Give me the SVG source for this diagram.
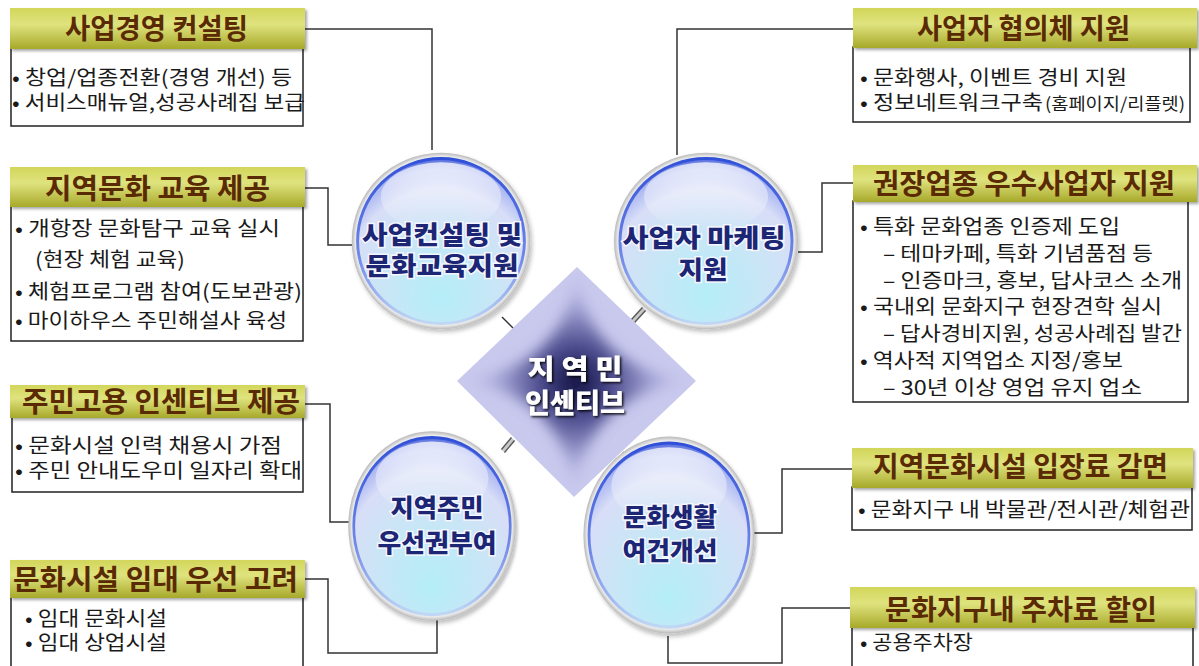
<svg xmlns="http://www.w3.org/2000/svg" width="1199" height="666" viewBox="0 0 1199 666">
<defs>
<linearGradient id="hdrG" x1="0" y1="0" x2="0" y2="1">
<stop offset="0" stop-color="#d2d65a"/>
<stop offset="0.4" stop-color="#dfe37e"/>
<stop offset="1" stop-color="#a7a92a"/>
</linearGradient>
<radialGradient id="ringG" cx="0.5" cy="0.5" r="0.5">
<stop offset="0.9" stop-color="#ffffff"/>
<stop offset="0.96" stop-color="#e8e8e8"/>
<stop offset="1" stop-color="#b8b8b8"/>
</radialGradient>
<radialGradient id="ballG" cx="0.5" cy="0.72" r="0.72" fx="0.5" fy="0.85">
<stop offset="0" stop-color="#b4eef8"/>
<stop offset="0.45" stop-color="#c8e6f6"/>
<stop offset="0.78" stop-color="#d8def7"/>
<stop offset="0.92" stop-color="#aab6f2"/>
<stop offset="1" stop-color="#5068de"/>
</radialGradient>
<linearGradient id="rimG" x1="0" y1="0" x2="0" y2="1">
<stop offset="0" stop-color="#3050d8"/>
<stop offset="0.6" stop-color="#7088e8"/>
<stop offset="1" stop-color="#c0d8f4"/>
</linearGradient>
<linearGradient id="hiG" x1="0" y1="0" x2="0" y2="1">
<stop offset="0" stop-color="#ffffff" stop-opacity="0.75"/>
<stop offset="1" stop-color="#ffffff" stop-opacity="0"/>
</linearGradient>
<radialGradient id="starG" gradientUnits="userSpaceOnUse" cx="576" cy="382" r="110">
<stop offset="0" stop-color="#0e0e3c"/>
<stop offset="0.3" stop-color="#454588"/>
<stop offset="0.7" stop-color="#a6a6d8"/>
<stop offset="1" stop-color="#c9c9ee"/>
</radialGradient>
<clipPath id="dclip"><polygon points="457,381 577,267 696,381 574,497"/></clipPath>
<filter id="blur" x="-20%" y="-20%" width="140%" height="140%"><feGaussianBlur stdDeviation="7"/></filter>
<filter id="sh" x="-10%" y="-10%" width="130%" height="130%"><feDropShadow dx="2" dy="3" stdDeviation="2" flood-color="#000" flood-opacity="0.25"/></filter>
<filter id="hsh" x="-5%" y="-10%" width="110%" height="130%"><feDropShadow dx="2" dy="2" stdDeviation="1.5" flood-color="#000" flood-opacity="0.35"/></filter>
<filter id="dsh" x="-10%" y="-20%" width="130%" height="150%"><feDropShadow dx="1.5" dy="1.5" stdDeviation="0.8" flood-color="#000" flood-opacity="0.9"/></filter>
<g id="ball">
<circle r="92" fill="url(#ringG)" filter="url(#sh)"/>
<circle r="86" fill="url(#ballG)"/>
<circle r="86" fill="none" stroke="url(#rimG)" stroke-width="3"/>
<ellipse cx="0" cy="-46" rx="62" ry="36" fill="url(#hiG)"/>
</g>
</defs>
<style>
.hdr{fill:url(#hdrG);filter:url(#hsh);}
.box{fill:#fff;stroke:#222;stroke-width:1.5;}
.ht{font-family:"Noto Sans CJK KR","Noto Sans",sans-serif;font-size:28px;font-weight:700;fill:#5a2a05;}
.bt{font-family:"Noto Sans CJK KR","Noto Sans",sans-serif;font-size:20px;fill:#1a1a1a;}
.sm{font-size:17px;}
.conn{fill:none;stroke:#333;stroke-width:1.5;}
.ct{font-family:"Noto Sans CJK KR","Noto Sans",sans-serif;font-size:25px;font-weight:900;fill:#1c2674;stroke:#f4f6ff;stroke-width:3;paint-order:stroke;text-anchor:middle;}
.dt{font-family:"Noto Sans CJK KR","Noto Sans",sans-serif;font-size:27px;font-weight:900;fill:#fff;text-anchor:middle;filter:url(#dsh);}
.hatch{stroke:#c8c8c8;stroke-width:6;}
.hl{stroke:#555;stroke-width:1.2;}
</style>
<rect width="1199" height="666" fill="#fff"/>

<g id="connectors">
<polyline class="conn" points="305,29 432,29 432,150"/>
<polyline class="conn" points="305,188 328,188 328,245 355,245"/>
<polyline class="conn" points="305,404 330,404 330,522 355,522"/>
<polyline class="conn" points="305,579 328,579 328,653 437,653 437,620"/>
<polyline class="conn" points="853,29 677,29 677,155"/>
<polyline class="conn" points="853,183 822,183 822,252 798,252"/>
<polyline class="conn" points="855,469 782,469 782,533 752,533"/>
<polyline class="conn" points="855,608 782,608 782,663 668,663 668,636"/>
<line class="conn" x1="502" y1="317" x2="516" y2="331"/>
<line class="conn" x1="623" y1="452" x2="636" y2="466"/>
<g>
<line class="hatch" x1="644" y1="309" x2="633" y2="321"/>
<line class="hl" x1="645.5" y1="310.5" x2="634.5" y2="322.5"/>
<line class="hl" x1="642.5" y1="307.5" x2="631.5" y2="319.5"/>
</g>
<g>
<line class="hatch" x1="513" y1="439" x2="503" y2="451"/>
<line class="hl" x1="514.5" y1="440.5" x2="504.5" y2="452.5"/>
<line class="hl" x1="511.5" y1="437.5" x2="501.5" y2="449.5"/>
</g>
</g>

<g id="center-diamond">
<polygon points="457,381 577,267 696,381 574,497" fill="#c9c9ee"/>
<g clip-path="url(#dclip)">
<path d="M577,272 Q588,368 692,381 Q588,394 574,493 Q563,394 461,381 Q563,368 577,272 Z" fill="url(#starG)" filter="url(#blur)"/>
</g>
<text class="dt" x="575" y="379" textLength="95" lengthAdjust="spacingAndGlyphs">지 역 민</text>
<text class="dt" x="575" y="413" textLength="100" lengthAdjust="spacingAndGlyphs">인센티브</text>
</g>

<g id="circle-tl">
<use href="#ball" transform="translate(441,241) scale(0.97,0.96)"/>
<text class="ct" x="442" y="244" textLength="160" lengthAdjust="spacingAndGlyphs">사업컨설팅 및</text>
<text class="ct" x="442" y="275" textLength="153" lengthAdjust="spacingAndGlyphs">문화교육지원</text>
</g>
<g id="circle-tr">
<use href="#ball" transform="translate(706,241) scale(1.0,0.96)"/>
<text class="ct" x="704" y="247" textLength="163" lengthAdjust="spacingAndGlyphs">사업자 마케팅</text>
<text class="ct" x="703" y="279" textLength="49" lengthAdjust="spacingAndGlyphs">지원</text>
</g>
<g id="circle-bl">
<use href="#ball" transform="translate(432,526) scale(0.91,1.03)"/>
<text class="ct" x="437" y="517" textLength="93" lengthAdjust="spacingAndGlyphs">지역주민</text>
<text class="ct" x="437" y="552" textLength="119" lengthAdjust="spacingAndGlyphs">우선권부여</text>
</g>
<g id="circle-br">
<use href="#ball" transform="translate(669,535) scale(0.93,1.07)"/>
<text class="ct" x="670" y="526" textLength="94" lengthAdjust="spacingAndGlyphs">문화생활</text>
<text class="ct" x="670" y="560" textLength="95" lengthAdjust="spacingAndGlyphs">여건개선</text>
</g>

<g id="panel-consulting">
<rect class="box" x="11" y="48" width="292" height="78"/>
<rect class="hdr" x="10" y="8" width="295" height="41"/>
<text class="ht" x="65" y="39" textLength="183" lengthAdjust="spacingAndGlyphs">사업경영 컨설팅</text>
<text class="bt" x="12" y="85" textLength="280" lengthAdjust="spacingAndGlyphs">• 창업/업종전환(경영 개선) 등</text>
<text class="bt" x="12" y="110" textLength="293" lengthAdjust="spacingAndGlyphs">• 서비스매뉴얼,성공사례집 보급</text>
</g>

<g id="panel-education">
<rect class="box" x="11" y="206" width="292" height="135"/>
<rect class="hdr" x="10" y="167" width="295" height="40"/>
<text class="ht" x="45" y="199" textLength="225" lengthAdjust="spacingAndGlyphs">지역문화 교육 제공</text>
<text class="bt" x="15" y="236" textLength="265" lengthAdjust="spacingAndGlyphs">• 개항장 문화탐구 교육 실시</text>
<text class="bt" x="35" y="267" textLength="150" lengthAdjust="spacingAndGlyphs">(현장 체험 교육)</text>
<text class="bt" x="15" y="299" textLength="287" lengthAdjust="spacingAndGlyphs">• 체험프로그램 참여(도보관광)</text>
<text class="bt" x="15" y="328" textLength="272" lengthAdjust="spacingAndGlyphs">• 마이하우스 주민해설사 육성</text>
</g>

<g id="panel-employment">
<rect class="box" x="12" y="416" width="291" height="76"/>
<rect class="hdr" x="10" y="385" width="295" height="33"/>
<text class="ht" x="22" y="412" textLength="278" lengthAdjust="spacingAndGlyphs">주민고용 인센티브 제공</text>
<text class="bt" x="15" y="453" textLength="267" lengthAdjust="spacingAndGlyphs">• 문화시설 인력 채용시 가점</text>
<text class="bt" x="15" y="478" textLength="287" lengthAdjust="spacingAndGlyphs">• 주민 안내도우미 일자리 확대</text>
</g>

<g id="panel-lease">
<rect class="box" x="11" y="597" width="292" height="75"/>
<rect class="hdr" x="10" y="560" width="295" height="38"/>
<text class="ht" x="13" y="590" textLength="285" lengthAdjust="spacingAndGlyphs">문화시설 임대 우선 고려</text>
<text class="bt" x="25" y="626" textLength="142" lengthAdjust="spacingAndGlyphs">• 임대 문화시설</text>
<text class="bt" x="25" y="650" textLength="142" lengthAdjust="spacingAndGlyphs">• 임대 상업시설</text>
</g>

<g id="panel-council">
<rect class="box" x="853" y="47" width="337" height="75"/>
<rect class="hdr" x="853" y="8" width="344" height="40"/>
<text class="ht" x="917" y="39" textLength="213" lengthAdjust="spacingAndGlyphs">사업자 협의체 지원</text>
<text class="bt" x="860" y="85" textLength="267" lengthAdjust="spacingAndGlyphs">• 문화행사, 이벤트 경비 지원</text>
<text class="bt" x="860" y="110"><tspan textLength="183" lengthAdjust="spacingAndGlyphs">• 정보네트워크구축</tspan><tspan class="sm" x="1045" textLength="140" lengthAdjust="spacingAndGlyphs">(홈페이지/리플렛)</tspan></text>
</g>

<g id="panel-recommended">
<rect class="box" x="853" y="201" width="335" height="201"/>
<rect class="hdr" x="853" y="165" width="344" height="37"/>
<text class="ht" x="873" y="194" textLength="302" lengthAdjust="spacingAndGlyphs">권장업종 우수사업자 지원</text>
<text class="bt" x="860" y="234" textLength="260" lengthAdjust="spacingAndGlyphs">• 특화 문화업종 인증제 도입</text>
<text class="bt" x="883" y="261" textLength="270" lengthAdjust="spacingAndGlyphs">– 테마카페, 특화 기념품점 등</text>
<text class="bt" x="883" y="288" textLength="299" lengthAdjust="spacingAndGlyphs">– 인증마크, 홍보, 답사코스 소개</text>
<text class="bt" x="860" y="314" textLength="302" lengthAdjust="spacingAndGlyphs">• 국내외 문화지구 현장견학 실시</text>
<text class="bt" x="883" y="341" textLength="299" lengthAdjust="spacingAndGlyphs">– 답사경비지원, 성공사례집 발간</text>
<text class="bt" x="860" y="368" textLength="263" lengthAdjust="spacingAndGlyphs">• 역사적 지역업소 지정/홍보</text>
<text class="bt" x="883" y="395" textLength="259" lengthAdjust="spacingAndGlyphs">– 30년 이상 영업 유지 업소</text>
</g>

<g id="panel-admission">
<rect class="box" x="852" y="487" width="340" height="43"/>
<rect class="hdr" x="852" y="448" width="341" height="40"/>
<text class="ht" x="873" y="477" textLength="295" lengthAdjust="spacingAndGlyphs">지역문화시설 입장료 감면</text>
<text class="bt" x="858" y="517" textLength="332" lengthAdjust="spacingAndGlyphs">• 문화지구 내 박물관/전시관/체험관</text>
</g>

<g id="panel-parking">
<rect class="box" x="852" y="627" width="341" height="45"/>
<rect class="hdr" x="850" y="587" width="345" height="41"/>
<text class="ht" x="885" y="620" textLength="272" lengthAdjust="spacingAndGlyphs">문화지구내 주차료 할인</text>
<text class="bt" x="860" y="650" textLength="113" lengthAdjust="spacingAndGlyphs">• 공용주차장</text>
</g>
</svg>
